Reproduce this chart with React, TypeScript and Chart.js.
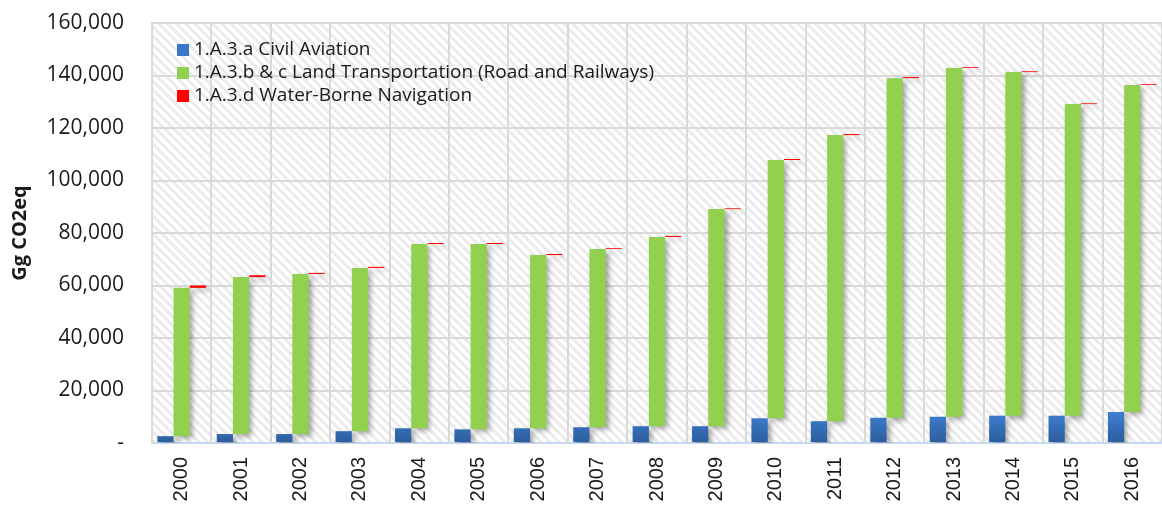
import React, { useEffect, useRef } from "react";
import { Chart, registerables } from "chart.js";

Chart.register(...registerables);

const years = ["2000","2001","2002","2003","2004","2005","2006","2007","2008","2009","2010","2011","2012","2013","2014","2015","2016"];
const civilAviation = [2600, 3400, 3400, 4500, 5600, 5200, 5600, 6000, 6400, 6400, 9400, 8300, 9600, 10000, 10400, 10400, 11800];
const landTransport = [56500, 59800, 61000, 62200, 70200, 70600, 66000, 67900, 72100, 82700, 98400, 109000, 129400, 132900, 130900, 118700, 124600];
const waterBorne = [900, 700, 400, 400, 400, 400, 400, 300, 400, 300, 400, 400, 400, 300, 300, 300, 300];
const seriesNames = [
  "1.A.3.a Civil Aviation",
  "1.A.3.b & c Land Transportation (Road and Railways)",
  "1.A.3.d Water-Borne Navigation",
];
const yTicks = [0, 20000, 40000, 60000, 80000, 100000, 120000, 140000, 160000];
const yTitle = "Gg CO2eq";

const BLUE = "#3a78c9";
const GREEN = "#92d050";
const RED = "#ff0000";

export default function App() {
  const ref = useRef<HTMLCanvasElement | null>(null);

  useEffect(() => {
    const canvas = ref.current;
    if (!canvas) return;

    const bgPlugin = {
      id: "hatchBg",
      beforeDraw(chart: any) {
        const { ctx, chartArea } = chart;
        const tile = document.createElement("canvas");
        tile.width = 9;
        tile.height = 9;
        const t = tile.getContext("2d")!;
        t.fillStyle = "#ffffff";
        t.fillRect(0, 0, 9, 9);
        t.strokeStyle = "#ebebeb";
        t.lineWidth = 3;
        t.beginPath();
        t.moveTo(-2, -2); t.lineTo(11, 11);
        t.moveTo(-11, -2); t.lineTo(2, 11);
        t.moveTo(7, -2); t.lineTo(20, 11);
        t.stroke();
        const pat = ctx.createPattern(tile, "repeat");
        ctx.save();
        ctx.fillStyle = pat;
        ctx.fillRect(chartArea.left, chartArea.top, chartArea.right - chartArea.left, chartArea.bottom - chartArea.top);
        ctx.restore();
      },
    };

    const shadowPlugin = {
      id: "barShadow",
      beforeDatasetsDraw(chart: any) {
        const ctx = chart.ctx;
        ctx.save();
        ctx.shadowColor = "rgba(0,0,0,0.35)";
        ctx.shadowBlur = 5;
        ctx.shadowOffsetX = 3;
        ctx.shadowOffsetY = 3;
      },
      afterDatasetsDraw(chart: any) {
        chart.ctx.restore();
      },
    };

    const legendPlugin = {
      id: "innerLegend",
      afterDraw(chart: any) {
        const { ctx, chartArea } = chart;
        const colors = [BLUE, GREEN, RED];
        ctx.save();
        ctx.font = "19px 'Open Sans'";
        ctx.textBaseline = "middle";
        seriesNames.forEach((name, i) => {
          const cy = chartArea.top + 27 + i * 23;
          const x = chartArea.left + 25;
          ctx.fillStyle = colors[i];
          ctx.fillRect(x, cy - 6, 12, 12);
          ctx.fillStyle = "#1a1a1a";
          ctx.fillText(name, x + 17, cy);
        });
        ctx.restore();
      },
    };

    const blueData = civilAviation.map((v) => [0, v]);
    const greenData = landTransport.map((v, i) => [civilAviation[i], civilAviation[i] + v]);
    const redData = waterBorne.map((v, i) => [civilAviation[i] + landTransport[i], civilAviation[i] + landTransport[i] + v]);

    const chart = new Chart(canvas, {
      type: "bar",
      data: {
        labels: years,
        datasets: [
          {
            label: seriesNames[0],
            data: blueData as any,
            backgroundColor: (c: any) => {
              const ch = c.chart;
              const area = ch.chartArea;
              if (!area) return BLUE;
              const yScale = ch.scales.y;
              const g = ch.ctx.createLinearGradient(0, yScale.getPixelForValue(12000), 0, area.bottom);
              g.addColorStop(0, "#3f80d4");
              g.addColorStop(1, "#2b5d9c");
              return g;
            },
          },
          { label: seriesNames[1], data: greenData as any, backgroundColor: GREEN },
          { label: seriesNames[2], data: redData as any, backgroundColor: RED },
        ],
      },
      options: {
        animation: false,
        responsive: false,
        maintainAspectRatio: false,
        layout: { padding: { top: 23, left: 0, right: 0, bottom: 0 } },
        datasets: { bar: { categoryPercentage: 0.82, barPercentage: 1.0 } },
        plugins: {
          legend: { display: false },
          tooltip: { enabled: false },
        },
        scales: {
          x: {
            grid: { color: "#d9d9d9", lineWidth: 2, drawTicks: false, offset: true },
            border: { color: "#c6d9f0", width: 2 },
            ticks: {
              color: "#1a1a1a",
              font: { family: "'Liberation Sans', Arial, sans-serif", size: 20 },
              minRotation: 90,
              maxRotation: 90,
              padding: 14,
              autoSkip: false,
            },
            afterFit(scale: any) {
              scale.height = 66;
              scale.paddingLeft = 0;
              scale.paddingRight = 0;
            },
          },
          y: {
            min: 0,
            max: 160000,
            afterBuildTicks(scale: any) {
              scale.ticks = yTicks.map((v) => ({ value: v }));
            },
            grid: { color: "#d9d9d9", lineWidth: 2, drawTicks: false },
            border: { color: "#d9d9d9", width: 2 },
            ticks: {
              color: "#1a1a1a",
              font: { family: "'Open Sans', sans-serif", size: 21 },
              padding: 28,
              callback: (v: any) => (Number(v) === 0 ? "-" : Number(v).toLocaleString("en-US")),
            },
            title: {
              display: true,
              text: yTitle,
              color: "#1a1a1a",
              font: { family: "'Open Sans', sans-serif", size: 20, weight: "bold" },
              padding: { top: 8, bottom: 0 },
            },
            afterFit(scale: any) {
              scale.width = 152;
              scale.paddingTop = 0;
              scale.paddingBottom = 0;
            },
          },
        },
      },
      plugins: [bgPlugin, shadowPlugin, legendPlugin],
    });

    return () => chart.destroy();
  }, []);

  return (
    <div style={{ position: "fixed", left: 0, top: 0, width: 1162, height: 509, background: "#fff" }}>
      <canvas ref={ref} width={1162} height={509} style={{ width: 1162, height: 509, display: "block" }} />
    </div>
  );
}
